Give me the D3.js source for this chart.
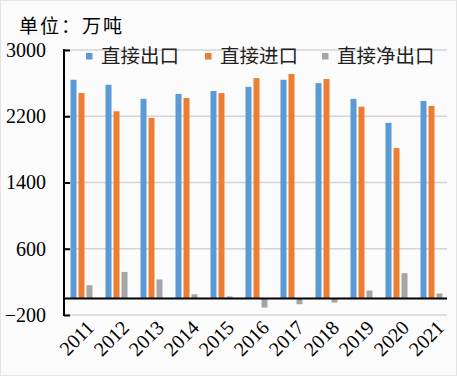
<!DOCTYPE html>
<html>
<head>
<meta charset="utf-8">
<script src="https://cdn.jsdelivr.net/npm/d3@7"></script>
<style>
  body { margin: 0; background: #fff; }
  svg { display: block; }
  .num { font-family: 'Liberation Serif', 'Times New Roman', 'DejaVu Serif', serif; font-size: 20px; }
  .cjk { font-family: 'Noto Sans CJK SC', sans-serif; }
</style>
</head>
<body>
<div class="container"></div>
<script>
const width = 457;
const height = 376;

const years = ['2011', '2012', '2013', '2014', '2015', '2016', '2017', '2018', '2019', '2020', '2021'];
const exportVals = [2640, 2580, 2410, 2470, 2505, 2555, 2640, 2600, 2410, 2120, 2385];
const importVals = [2480, 2260, 2180, 2420, 2480, 2660, 2710, 2650, 2315, 1815, 2325];
const netVals = [160, 320, 230, 50, 25, -110, -70, -50, 95, 305, 60];
const seriesNames = ['直接出口', '直接进口', '直接净出口'];
const yTicks = [-200, 600, 1400, 2200, 3000];

const colors = ['#5b9bd5', '#ed7d31', '#a5a5a5'];

const rows = years.map((year, i) => ({
  year,
  values: [exportVals[i], importVals[i], netVals[i]],
}));

const svg = d3.select('.container')
  .append('svg')
  .attr('width', width)
  .attr('height', height);

svg.append('rect')
  .attr('x', 0.5).attr('y', 0.5)
  .attr('width', width - 1).attr('height', height - 1)
  .attr('fill', '#fbfbfb')
  .attr('stroke', '#c8c8c8')
  .attr('stroke-dasharray', '1,1');

const x = d3.scaleBand()
  .domain(years)
  .range([64, 449]);

const x1 = d3.scaleBand()
  .domain([0, 1, 2])
  .range([0, x.bandwidth()])
  .paddingInner(0.25)
  .paddingOuter(0.8125);

const y = d3.scaleLinear()
  .domain([-200, 3000])
  .range([315, 50]);

// gridlines
svg.append('g')
  .selectAll('line')
  .data(yTicks)
  .enter()
  .append('line')
  .attr('x1', 64)
  .attr('x2', 447)
  .attr('y1', d => y(d))
  .attr('y2', d => y(d))
  .attr('stroke', '#d4d4d4')
  .attr('stroke-width', 1.3);

// bars
const groups = svg.append('g')
  .selectAll('g')
  .data(rows)
  .enter()
  .append('g')
  .attr('transform', d => `translate(${x(d.year)},0)`);

groups.selectAll('rect')
  .data(d => d.values)
  .enter()
  .append('rect')
  .attr('x', (_, i) => x1(i))
  .attr('width', x1.bandwidth())
  .attr('y', d => y(Math.max(0, d)))
  .attr('height', d => Math.abs(y(d) - y(0)))
  .attr('fill', (_, i) => colors[i]);

// y axis
const yAxis = d3.axisLeft(y)
  .tickValues(yTicks)
  .tickSize(-6)
  .tickFormat(d3.format('d'));

const yg = svg.append('g')
  .attr('transform', 'translate(64,0)')
  .call(yAxis)
  .attr('font-family', null)
  .attr('font-size', null);

yg.select('.domain').remove();
yg.selectAll('.tick line')
  .attr('stroke', '#000')
  .attr('stroke-width', 2);
yg.selectAll('.tick text')
  .attr('class', 'num')
  .attr('x', -18)
  .attr('fill', '#000');

svg.append('line')
  .attr('x1', 64).attr('x2', 64)
  .attr('y1', y(3000) - 1).attr('y2', y(-200) + 1)
  .attr('stroke', '#000')
  .attr('stroke-width', 2);

// zero line
svg.append('line')
  .attr('x1', 63).attr('x2', 447)
  .attr('y1', y(0)).attr('y2', y(0))
  .attr('stroke', '#000')
  .attr('stroke-width', 2);

// x labels
svg.append('g')
  .selectAll('text')
  .data(years)
  .enter()
  .append('text')
  .attr('class', 'num')
  .attr('transform', d => `translate(${x(d) + x.bandwidth() / 2 + 4},${y(-200) + 4}) rotate(-45)`)
  .attr('text-anchor', 'end')
  .attr('dy', '0.7em')
  .text(d => d);

// unit title
svg.append('text')
  .attr('class', 'cjk')
  .attr('x', 19)
  .attr('y', 33)
  .style('font-size', '19px')
  .style('letter-spacing', '2px')
  .text('单位：万吨');

// legend
const legendX = [86, 205, 322];
const legend = svg.append('g')
  .selectAll('g')
  .data(seriesNames)
  .enter()
  .append('g')
  .attr('transform', (_, i) => `translate(${legendX[i]},0)`);

legend.append('rect')
  .attr('x', 0)
  .attr('y', 53)
  .attr('width', 6.5)
  .attr('height', 6.5)
  .attr('fill', (_, i) => colors[i]);

legend.append('text')
  .attr('class', 'cjk')
  .attr('x', 15)
  .attr('y', 63)
  .style('font-size', '19.5px')
  .attr('fill', '#222')
  .text(d => d);
</script>
</body>
</html>
